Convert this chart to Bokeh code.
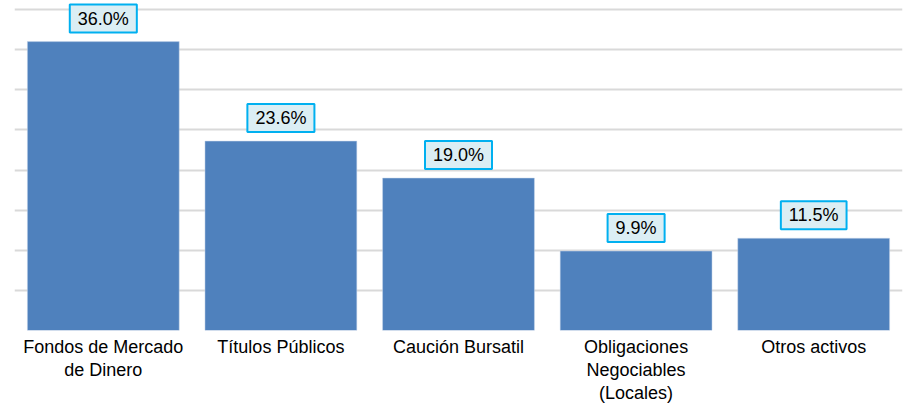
from bokeh.plotting import figure
from bokeh.models import ColumnDataSource, Label, FixedTicker, Range1d
from bokeh.embed import file_html
from bokeh.resources import INLINE

categories = ["Fondos de Mercado\nde Dinero", "Títulos Públicos", "Caución Bursatil",
              "Obligaciones\nNegociables\n(Locales)", "Otros activos"]
values = [36.0, 23.6, 19.0, 9.9, 11.5]
value_labels = ["36.0%", "23.6%", "19.0%", "9.9%", "11.5%"]
grid_ticks = [0, 5, 10, 15, 20, 25, 30, 35, 40]

src = ColumnDataSource(dict(cat=categories, val=values))

p = figure(x_range=categories, y_range=Range1d(0, 41), width=914, height=405,
           output_backend="svg", toolbar_location=None,
           min_border_left=14, min_border_right=12, min_border_top=1, min_border_bottom=74)
p.outline_line_color = None
p.background_fill_color = "white"
p.border_fill_color = "white"

p.vbar(x="cat", top="val", width=0.855, source=src, fill_color="#4f81bd",
       line_color="#c9d7ea", line_width=0.5)

p.yaxis.visible = False
p.xgrid.grid_line_color = None
p.ygrid.ticker = FixedTicker(ticks=grid_ticks)
p.ygrid.grid_line_color = "#d9d9d9"
p.ygrid.grid_line_width = 2
p.ygrid.level = "underlay"

ax = p.xaxis[0]
ax.axis_line_color = None
ax.major_tick_line_color = None
ax.minor_tick_line_color = None
ax.major_tick_in = 0
ax.major_tick_out = 0
ax.major_label_standoff = 6
ax.major_label_text_font = "Liberation Sans"
ax.major_label_text_font_size = "18px"
ax.major_label_text_color = "#000000"
ax.major_label_text_line_height = 1.15

# categorical factor i sits at synthetic coordinate i + 0.5
for i, (v, t) in enumerate(zip(values, value_labels)):
    p.add_layout(Label(x=i + 0.5, y=v, text=t, y_offset=23,
                       text_align="center", text_baseline="middle",
                       text_font="Liberation Sans", text_font_size="18px", text_color="#000000",
                       background_fill_color="#dbeef4", border_line_color="#00b0f0",
                       border_line_width=2, padding=(8, 4)))

open("out.html", "w").write(file_html(p, INLINE))
